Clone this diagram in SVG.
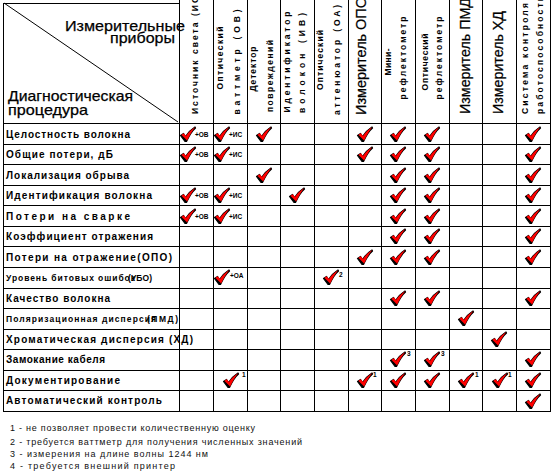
<svg xmlns="http://www.w3.org/2000/svg" width="552" height="474" viewBox="0 0 552 474">
<style>
text{font-family:"Liberation Sans",Arial,sans-serif;fill:#000}
.rl{font-size:10px;font-weight:bold}
.rs{font-size:8.5px;font-weight:bold}
.hs{font-size:8.5px;font-weight:bold}
.hl{font-size:14px;stroke:#000;stroke-width:0.25}
.big{font-size:15px;stroke:#000;stroke-width:0.25}
.sup{font-size:6.5px;font-weight:bold}
.fn{font-size:9px;fill:#111}
.g line{stroke:#000;stroke-width:1}
</style>
<defs>
<g id="ck">
<path d="M0.5,8.5 L3.5,6.5 L5.5,9.5 C8,5.5 11,2.5 15,0 L15.5,1 C12,4 9,9 6.5,14.5 L5,14.5 Z" fill="#000" stroke="#000" stroke-width="1.2" stroke-linejoin="round"/>
<path d="M1.3,7.8 L3.9,6.3 L6,9 C8.5,5.2 11.2,2.4 15.3,0 C12.3,3.6 9.6,8.3 7.2,13.6 Z" fill="#f00"/>
</g>
</defs>
<g id="grid" class="g">
<line x1="3" y1="3.5" x2="179" y2="3.5"/>
<line x1="3.5" y1="3" x2="3.5" y2="411.5"/>
<line x1="179.5" y1="0" x2="179.5" y2="411.5"/>
<line x1="213.5" y1="0" x2="213.5" y2="411.5"/>
<line x1="247.5" y1="0" x2="247.5" y2="411.5"/>
<line x1="280.5" y1="0" x2="280.5" y2="411.5"/>
<line x1="314.5" y1="0" x2="314.5" y2="411.5"/>
<line x1="348.5" y1="0" x2="348.5" y2="411.5"/>
<line x1="381.5" y1="0" x2="381.5" y2="411.5"/>
<line x1="415.5" y1="0" x2="415.5" y2="411.5"/>
<line x1="449.5" y1="0" x2="449.5" y2="411.5"/>
<line x1="482.5" y1="0" x2="482.5" y2="411.5"/>
<line x1="516.5" y1="0" x2="516.5" y2="411.5"/>
<line x1="550.5" y1="0" x2="550.5" y2="411.5"/>
<line x1="3" y1="123.5" x2="551" y2="123.5"/>
<line x1="3" y1="144.5" x2="551" y2="144.5"/>
<line x1="3" y1="164.5" x2="551" y2="164.5"/>
<line x1="3" y1="185.5" x2="551" y2="185.5"/>
<line x1="3" y1="205.5" x2="551" y2="205.5"/>
<line x1="3" y1="226.5" x2="551" y2="226.5"/>
<line x1="3" y1="246.5" x2="551" y2="246.5"/>
<line x1="3" y1="267.5" x2="551" y2="267.5"/>
<line x1="3" y1="288.5" x2="551" y2="288.5"/>
<line x1="3" y1="308.5" x2="551" y2="308.5"/>
<line x1="3" y1="329.5" x2="551" y2="329.5"/>
<line x1="3" y1="349.5" x2="551" y2="349.5"/>
<line x1="3" y1="370.5" x2="551" y2="370.5"/>
<line x1="3" y1="390.5" x2="551" y2="390.5"/>
<line x1="3" y1="411.5" x2="551" y2="411.5"/>
<line x1="4" y1="3" x2="178" y2="122"/>
</g>
<g id="corner">
<text class="big" x="65" y="31" textLength="120" lengthAdjust="spacingAndGlyphs">Измерительные</text>
<text class="big" x="110" y="43" textLength="65" lengthAdjust="spacingAndGlyphs">приборы</text>
<text class="big" x="8" y="101" textLength="125" lengthAdjust="spacingAndGlyphs">Диагностическая</text>
<text class="big" x="8" y="115" textLength="80" lengthAdjust="spacingAndGlyphs">процедура</text>
</g>
<g id="col-headers">
<text class="hs" transform="translate(198,114) rotate(-90)" textLength="122" lengthAdjust="spacing">Источник света (ИС)</text>
<text class="hs" transform="translate(223,58) rotate(-90)" text-anchor="middle" textLength="63" lengthAdjust="spacing">Оптический</text>
<text class="hs" transform="translate(240,62) rotate(-90)" text-anchor="middle" textLength="105" lengthAdjust="spacing">ваттметр (ОВ)</text>
<text class="hs" transform="translate(256,69) rotate(-90)" text-anchor="middle" textLength="45" lengthAdjust="spacing">Детектор</text>
<text class="hs" transform="translate(273,76) rotate(-90)" text-anchor="middle" textLength="72" lengthAdjust="spacing">повреждений</text>
<text class="hs" transform="translate(290,62) rotate(-90)" text-anchor="middle" textLength="101" lengthAdjust="spacing">Идентификатор</text>
<text class="hs" transform="translate(305,63) rotate(-90)" text-anchor="middle" textLength="100" lengthAdjust="spacing">волокон (ИВ)</text>
<text class="hs" transform="translate(323,60) rotate(-90)" text-anchor="middle" textLength="60" lengthAdjust="spacing">Оптический</text>
<text class="hs" transform="translate(340,60) rotate(-90)" text-anchor="middle" textLength="110" lengthAdjust="spacing">аттенюатор (ОА)</text>
<text class="hl" transform="translate(366,115) rotate(-90)" textLength="118" lengthAdjust="spacingAndGlyphs">Измеритель ОПО</text>
<text class="hs" transform="translate(391,62) rotate(-90)" text-anchor="middle" textLength="27" lengthAdjust="spacing">Мини-</text>
<text class="hs" transform="translate(406,58) rotate(-90)" text-anchor="middle" textLength="83" lengthAdjust="spacing">рефлектометр</text>
<text class="hs" transform="translate(428,62) rotate(-90)" text-anchor="middle" textLength="57" lengthAdjust="spacing">Оптический</text>
<text class="hs" transform="translate(441.5,58) rotate(-90)" text-anchor="middle" textLength="83" lengthAdjust="spacing">рефлектометр</text>
<text class="hl" transform="translate(470,114) rotate(-90)" textLength="116" lengthAdjust="spacingAndGlyphs">Измеритель ПМД</text>
<text class="hl" transform="translate(503,114) rotate(-90)" textLength="103" lengthAdjust="spacingAndGlyphs">Измеритель ХД</text>
<text class="hs" transform="translate(528,114) rotate(-90)" textLength="111" lengthAdjust="spacing">Система контроля</text>
<text class="hs" transform="translate(543,114) rotate(-90)" textLength="118" lengthAdjust="spacing">работоспособности</text>
</g>
<g id="row-labels">
<text class="rl" x="6" y="137.5" textLength="124" lengthAdjust="spacing">Целостность волокна</text>
<text class="rl" x="6" y="158" textLength="107" lengthAdjust="spacing">Общие потери, дБ</text>
<text class="rl" x="6" y="178.5" textLength="123" lengthAdjust="spacing">Локализация обрыва</text>
<text class="rl" x="6" y="199" textLength="146" lengthAdjust="spacing">Идентификация волокна</text>
<text class="rl" x="6" y="219.5" textLength="124" lengthAdjust="spacing">Потери на сварке</text>
<text class="rl" x="6" y="240" textLength="147" lengthAdjust="spacing">Коэффициент отражения</text>
<text class="rl" x="6" y="260.5" textLength="166" lengthAdjust="spacing">Потери на отражение(ОПО)</text>
<text class="rs" x="6" y="281"><tspan textLength="129" lengthAdjust="spacing">Уровень битовых ошибок</tspan><tspan x="128" textLength="24" lengthAdjust="spacing">(УБО)</tspan></text>
<text class="rl" x="6" y="302" textLength="104" lengthAdjust="spacing">Качество волокна</text>
<text class="rs" x="6" y="322"><tspan textLength="150" lengthAdjust="spacing">Поляризационная дисперсия</tspan><tspan x="147" textLength="31" lengthAdjust="spacing">(ПМД)</tspan></text>
<text class="rl" x="6" y="342.5" textLength="187" lengthAdjust="spacing">Хроматическая дисперсия (ХД)</text>
<text class="rl" x="6" y="363" textLength="99" lengthAdjust="spacing">Замокание кабеля</text>
<text class="rl" x="6" y="383.5" textLength="114" lengthAdjust="spacing">Документирование</text>
<text class="rl" x="6" y="404" textLength="156" lengthAdjust="spacing">Автоматический контроль</text>
</g>
<g id="marks">
<use href="#ck" x="180" y="127"/><text class="sup" x="195" y="137">+ОВ</text>
<use href="#ck" x="214" y="127"/><text class="sup" x="229" y="137">+ИС</text>
<use href="#ck" x="256" y="127"/>
<use href="#ck" x="357" y="127"/>
<use href="#ck" x="390" y="127"/>
<use href="#ck" x="424" y="127"/>
<use href="#ck" x="525" y="127"/>
<use href="#ck" x="180" y="147"/><text class="sup" x="195" y="157">+ОВ</text>
<use href="#ck" x="214" y="147"/><text class="sup" x="229" y="157">+ИС</text>
<use href="#ck" x="357" y="147"/>
<use href="#ck" x="390" y="147"/>
<use href="#ck" x="424" y="147"/>
<use href="#ck" x="525" y="147"/>
<use href="#ck" x="256" y="168"/>
<use href="#ck" x="390" y="168"/>
<use href="#ck" x="424" y="168"/>
<use href="#ck" x="525" y="168"/>
<use href="#ck" x="180" y="188"/><text class="sup" x="195" y="198">+ОВ</text>
<use href="#ck" x="214" y="188"/><text class="sup" x="229" y="198">+ИС</text>
<use href="#ck" x="289" y="188"/>
<use href="#ck" x="390" y="188"/>
<use href="#ck" x="424" y="188"/>
<use href="#ck" x="525" y="188"/>
<use href="#ck" x="180" y="209"/><text class="sup" x="195" y="219">+ОВ</text>
<use href="#ck" x="214" y="209"/><text class="sup" x="229" y="219">+ИС</text>
<use href="#ck" x="390" y="209"/>
<use href="#ck" x="424" y="209"/>
<use href="#ck" x="525" y="209"/>
<use href="#ck" x="390" y="229"/>
<use href="#ck" x="424" y="229"/>
<use href="#ck" x="525" y="229"/>
<use href="#ck" x="357" y="250"/>
<use href="#ck" x="390" y="250"/>
<use href="#ck" x="424" y="250"/>
<use href="#ck" x="525" y="250"/>
<use href="#ck" x="214" y="270"/><text class="sup" x="230" y="278">+ОА</text>
<use href="#ck" x="323" y="270"/><text class="sup" x="339" y="277">2</text>
<use href="#ck" x="390" y="291"/>
<use href="#ck" x="424" y="291"/>
<use href="#ck" x="525" y="291"/>
<use href="#ck" x="458" y="311"/>
<use href="#ck" x="491" y="332"/>
<use href="#ck" x="390" y="352"/><text class="sup" x="407" y="356">3</text>
<use href="#ck" x="424" y="352"/><text class="sup" x="441" y="356">3</text>
<use href="#ck" x="525" y="352"/>
<use href="#ck" x="223" y="373"/><text class="sup" x="242" y="377">1</text>
<use href="#ck" x="357" y="373"/><text class="sup" x="373" y="377">1</text>
<use href="#ck" x="390" y="373"/>
<use href="#ck" x="424" y="373"/>
<use href="#ck" x="458" y="373"/><text class="sup" x="475" y="377">1</text>
<use href="#ck" x="492" y="373"/><text class="sup" x="508" y="377">1</text>
<use href="#ck" x="525" y="373"/>
<use href="#ck" x="525" y="394"/>
</g>
<g id="footnotes">
<text class="fn" x="10" y="431" textLength="245" lengthAdjust="spacing">1 - не позволяет провести количественную оценку</text>
<text class="fn" x="10" y="445" textLength="292" lengthAdjust="spacing">2 - требуется ваттметр для получения численных значений</text>
<text class="fn" x="10" y="457" textLength="198" lengthAdjust="spacing">3 - измерения на длине волны 1244 нм</text>
<text class="fn" x="10" y="469" textLength="165" lengthAdjust="spacing">4 - требуется внешний принтер</text>
</g>
</svg>
